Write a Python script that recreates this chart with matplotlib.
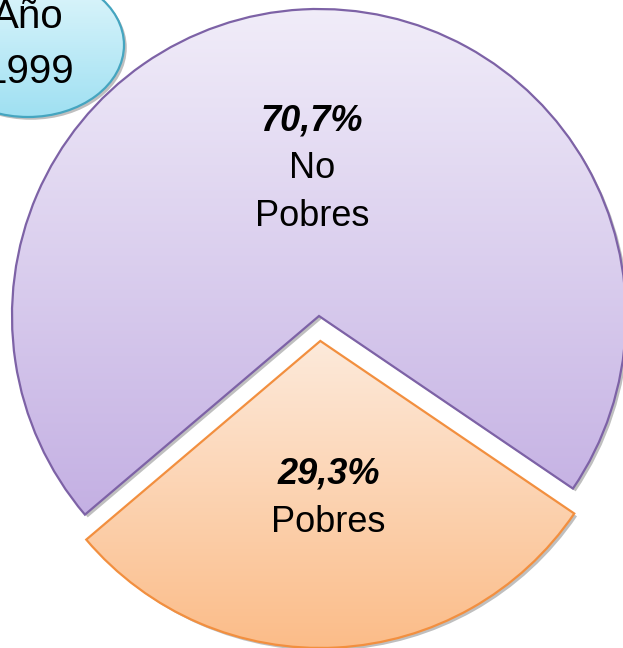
import numpy as np
import matplotlib
matplotlib.use("Agg")
import matplotlib.pyplot as plt
from matplotlib.patches import Wedge, Ellipse
from matplotlib.colors import LinearSegmentedColormap
import matplotlib.patheffects as pe

# data
labels = ["No\nPobres", "Pobres"]
shares = [70.7, 29.3]
pct_text = ["70,7%", "29,3%"]
year_text = "Año\n1999"

# styles
tops = ["#f1edf9", "#fdeadb"]
bottoms = ["#c4b0e3", "#fbbc88"]
edges = ["#7d62a6", "#f28f3f"]

W, H = 623, 648
plt.rcParams['font.family'] = ['Liberation Sans', 'DejaVu Sans']
fig = plt.figure(figsize=(W / 100, H / 100), dpi=100)
ax = fig.add_axes([0, 0, 1, 1])

cx, cy, r = 319, H - 316, 307
# explode is in data units (pixels here)
wedges, _ = ax.pie(shares, startangle=-34.2, counterclock=True,
                   center=(cx, cy), radius=r, explode=[0, 25],
                   wedgeprops=dict(linewidth=0))


def grad_fill(patch, top, bottom, verts, z):
    x0, x1 = verts[:, 0].min(), verts[:, 0].max()
    y0, y1 = verts[:, 1].min(), verts[:, 1].max()
    cmap = LinearSegmentedColormap.from_list("g", [top, bottom])
    img = np.linspace(0, 1, 256).reshape(-1, 1)
    im = ax.imshow(img, cmap=cmap, extent=[x0, x1, y0, y1], origin="upper",
                   aspect="auto", zorder=z, interpolation="bilinear")
    im.set_clip_path(patch)


label_dy = [-6, -4]
for i, w in enumerate(wedges):
    w.set_facecolor(tops[i])
    w.set_zorder(1)
    w.set_path_effects([pe.SimplePatchShadow(offset=(2, -2), shadow_rgbFace="black", alpha=0.25),
                        pe.Normal()])
    grad_fill(w, tops[i], bottoms[i], w.get_path().vertices, 2)
    ax.add_patch(Wedge(w.center, w.r, w.theta1, w.theta2, fill=False,
                       edgecolor=edges[i], linewidth=1.6, zorder=3))
    mid = np.deg2rad((w.theta1 + w.theta2) / 2)
    ax_x = w.center[0] + 0.5 * w.r * np.cos(mid)
    ax_y = w.center[1] + 0.5 * w.r * np.sin(mid)
    lines = [pct_text[i]] + labels[i].split("\n")
    n = len(lines)
    for j, line in enumerate(lines):
        yy = ax_y + 48 * ((n - 1) / 2 - j) + label_dy[i]
        xx = ax_x + (1 if i == 0 else 0)
        if j == 0:
            ax.text(xx, yy, line, ha="center", va="center", fontsize=26,
                    fontweight="bold", fontstyle="italic", zorder=5)
        else:
            ax.text(xx, yy, line, ha="center", va="center", fontsize=26, zorder=5)

# year badge
badge = Ellipse((28, H - 45), 192, 144, facecolor="#d8f4fb", edgecolor="none", zorder=6)
badge.set_path_effects([pe.SimplePatchShadow(offset=(2, -2), shadow_rgbFace="black", alpha=0.25),
                        pe.Normal()])
ax.add_patch(badge)
bv = badge.get_patch_transform().transform(badge.get_path().vertices)
grad_fill(badge, "#e2f7fc", "#9fe0f2", bv, 7)
ax.add_patch(Ellipse((28, H - 45), 192, 144, fill=False, edgecolor="#45a5c0",
                     linewidth=1.6, zorder=8))
yl = year_text.split("\n")
ax.text(28, H - 17, yl[0], ha="center", va="center", fontsize=29, zorder=9)
ax.text(30, H - 72, yl[1], ha="center", va="center", fontsize=29, zorder=9)

ax.set_xlim(0, W)
ax.set_ylim(0, H)
ax.set_aspect("auto")
ax.axis("off")
fig.savefig("out.png", dpi=100)
